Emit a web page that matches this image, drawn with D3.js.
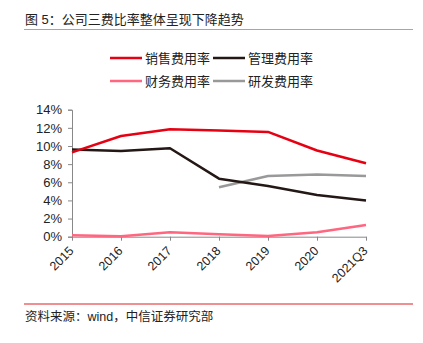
<!DOCTYPE html>
<html><head><meta charset="utf-8">
<script src="https://cdn.jsdelivr.net/npm/d3@7/dist/d3.min.js"></script>
<style>
body{margin:0;background:#fff;}
text{font-family:"Liberation Sans","Noto Sans CJK SC",Arial,sans-serif;}
</style></head>
<body><svg id="c" width="423" height="343"></svg>
<script>
const categories=["2015","2016","2017","2018","2019","2020","2021Q3"];
const salesRate=[9.3,11.1,11.85,11.7,11.55,9.5,8.1];
const adminRate=[9.6,9.45,9.75,6.4,5.6,4.6,4.0];
const financeRate=[0.15,0.05,0.48,0.27,0.08,0.48,1.3];
const rdRate=[null,null,null,5.45,6.7,6.85,6.7];
const yTicks=[0,2,4,6,8,10,12,14];
const seriesNames=["销售费用率","管理费用率","财务费用率","研发费用率"];
const seriesColors=["#e60012","#231815","#ff6680","#999999"];
const seriesData=[salesRate,adminRate,financeRate,rdRate];

const svg=d3.select("#c");
const x=d3.scalePoint().domain(categories).range([72,366]);
const y=d3.scaleLinear().domain([0,14]).range([236.7,109.7]);

// title
svg.append("text").attr("x",25).attr("y",24).attr("font-size",13).attr("fill","#222")
  .text("图 5：公司三费比率整体呈现下降趋势");
svg.append("line").attr("x1",24).attr("x2",413).attr("y1",29.5).attr("y2",29.5)
  .attr("stroke","#e88a8a").attr("stroke-width",1.2);

// legend
const legPos=[[110,58],[213,58],[110,81],[213,81]];
seriesNames.forEach((n,i)=>{
  const [lx,ly]=legPos[i];
  svg.append("line").attr("x1",lx).attr("x2",lx+32).attr("y1",ly).attr("y2",ly)
    .attr("stroke",seriesColors[i]).attr("stroke-width",2.5);
  svg.append("text").attr("x",lx+35).attr("y",ly+4.5).attr("font-size",13).attr("fill","#222").text(n);
});

// y axis
const yAxis=svg.append("g").attr("transform","translate(72,0)")
  .call(d3.axisLeft(y).tickValues(yTicks).tickFormat(d=>d+"%").tickSize(4).tickPadding(6));
yAxis.selectAll("path,line").attr("stroke","#888");
yAxis.selectAll("text").attr("font-size",13).attr("fill","#222")
  .attr("font-family","Liberation Sans, Arial, sans-serif");

// x axis
const xAxis=svg.append("g").attr("transform","translate(0,236.7)")
  .call(d3.axisBottom(x).tickSize(4).tickSizeOuter(0));
xAxis.selectAll("path,line").attr("stroke","#888");
xAxis.selectAll("text").attr("font-size",12.5).attr("fill","#222")
  .attr("font-family","Liberation Sans, Arial, sans-serif")
  .attr("text-anchor","end").attr("dy",null).attr("y",0)
  .attr("transform","translate(2,15) rotate(-45)");

// lines
const line=d3.line().defined(d=>d!=null).x((d,i)=>x(categories[i])).y(d=>y(d));
const order=[2,3,1,0];
order.forEach(i=>{
  svg.append("path").attr("d",line(seriesData[i])).attr("fill","none")
    .attr("stroke",seriesColors[i]).attr("stroke-width",2.5).attr("stroke-linejoin","round");
});

// bottom
svg.append("line").attr("x1",24).attr("x2",413).attr("y1",304).attr("y2",304)
  .attr("stroke","#e02020").attr("stroke-width",1.2);
svg.append("text").attr("x",25).attr("y",321).attr("font-size",12.5).attr("fill","#222")
  .text("资料来源：wind，中信证券研究部");
</script></body></html>
